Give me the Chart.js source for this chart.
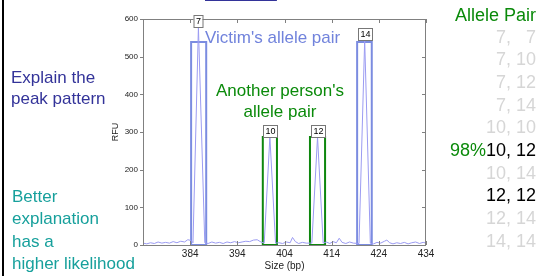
<!DOCTYPE html>
<html>
<head>
<meta charset="utf-8">
<script src="https://cdn.jsdelivr.net/npm/chart.js@4"></script>
<style>
    body { margin: 0; background: #fff; }
    #wrap { position: relative; width: 539px; height: 276px; overflow: hidden; font-family: "Liberation Sans", Arial, sans-serif; }
    #plot { position: absolute; left: 0; top: 0; }
    .txt { position: absolute; white-space: nowrap; }
    #edge { position: absolute; left: 2px; top: 0; width: 2px; height: 276px; background: #000; }
    #heading { position: absolute; top: -21px; left: 0; font-size: 20px; line-height: 20px; color: #333399; }
    #heading span { position: absolute; top: 0; white-space: nowrap; }
    #heading u { text-decoration-thickness: 3px; text-underline-offset: 2px; }
    #explain { left: 11px; top: 67px; font-size: 17px; line-height: 21px; color: #333399; }
    #better { left: 12px; top: 186px; font-size: 17px; line-height: 22.3px; color: #17a09c; }
    #victim { left: 205px; top: 28px; font-size: 17px; line-height: 20px; color: #7183dc; }
    #other { left: 200px; width: 160px; top: 80px; font-size: 17px; line-height: 21px; color: #0a8a0a; text-align: center; }
    #pairHead { right: 3px; top: 4px; font-size: 18px; line-height: 22.7px; color: #0a8a0a; }
    #pairs { right: 3px; top: 25.5px; font-size: 18px; line-height: 22.7px; color: #d6d6d6; text-align: right; }
    #pairs .hit { color: #000; }
    #pairs .pct { color: #0a8a0a; }
</style>
</head>
<body>
<div id="wrap">
    <canvas id="plot" width="539" height="276"></canvas>
    <div id="edge"></div>
    <div id="heading">
        <span style="left:25px">Quantify how well</span>
        <span style="left:205px"><u>different</u></span>
        <span style="left:290px">allele pairs</span>
        <span style="left:420px">genotype</span>
    </div>
    <div class="txt" id="explain">Explain the<br>peak pattern</div>
    <div class="txt" id="better">Better<br>explanation<br>has a<br>higher likelihood</div>
    <div class="txt" id="victim">Victim's allele pair</div>
    <div class="txt" id="other">Another person's<br>allele pair</div>
    <div class="txt" id="pairHead">Allele Pair</div>
    <div class="txt" id="pairs"></div>
</div>
<script>
// electropherogram trace (size in bp, height in RFU)
const traceSize = [374, 374.8, 375.6, 376.4, 377.2, 378, 378.8, 379.6, 380.4, 381.2,
    382, 382.8, 383.5, 384.2, 384.6, 385.75, 387.1, 387.8, 388.6, 389.4,
    390.2, 391, 391.8, 392.6, 393.4, 394.2, 395, 395.8, 396.6, 397.4,
    398.2, 399, 399.7, 400.9, 402.1, 402.8, 403.6, 404.4, 405.2, 405.7,
    406.3, 407, 407.8, 408.6, 409.8, 411.0, 412.2, 412.9, 413.6, 414.3,
    415, 415.6, 416.2, 417, 417.8, 418.6, 419.8, 421.0, 422.2, 422.9,
    423.6, 424.4, 425.2, 425.7, 426.3, 427, 427.8, 428.6, 429.4, 430.2,
    431, 431.8, 432.6, 433.4, 434];
const traceRFU = [5, 3, 6, 4, 8, 5, 7, 5, 9, 6,
    10, 8, 14, 12, 6, 579, 6, 4, 8, 5,
    7, 4, 8, 6, 9, 6, 8, 10, 9, 13,
    14, 8, 5, 287, 5, 6, 4, 8, 6, 20,
    9, 4, 7, 5, 5, 287, 5, 8, 4, 9,
    6, 18, 7, 4, 8, 5, 4, 544, 5, 3,
    7, 5, 10, 13, 6, 3, 6, 4, 7, 3,
    6, 8, 4, 7, 5];

// allele peak labels
const peakAllele = ['7', '10', '12', '14'];
const peakSize = [385.75, 400.9, 411.0, 421.0];
const peakRFU = [579, 287, 287, 544];

// highlight boxes around peaks
const boxStart = [384.2, 399.4, 409.4, 419.4];
const boxEnd = [387.4, 402.4, 412.6, 422.5];
const boxTop = [539, 287, 287, 539];
const boxOwner = ['victim', 'other', 'other', 'victim'];

// axis ticks
const xTickValues = [384, 394, 404, 414, 424, 434];
const yTickValues = [0, 100, 200, 300, 400, 500, 600];

// candidate allele pairs on the right
const pairList = ['7, \u20077', '7, 10', '7, 12', '7, 14', '10, 10', '10, 12', '10, 14', '12, 12', '12, 14', '14, 14'];
const pairHit = ['10, 12', '12, 12'];
const pairPct = { '10, 12': '98%' };

document.getElementById('pairs').innerHTML = pairList.map(p => {
    const pct = pairPct[p] ? `<span class="pct">${pairPct[p]}</span>` : '';
    const cls = pairHit.includes(p) ? 'hit' : '';
    return `<div>${pct}<span class="${cls}">${p}</span></div>`;
}).join('');

const ownerColor = { victim: '#7b8ce0', other: '#0e870e' };

const boxSets = boxStart.map((s, i) => ({
    data: [
        { x: s, y: 0 }, { x: s, y: boxTop[i] },
        { x: boxEnd[i], y: boxTop[i] }, { x: boxEnd[i], y: 0 }, { x: s, y: 0 }
    ],
    borderColor: ownerColor[boxOwner[i]],
    borderWidth: 2,
    pointRadius: 0,
    tension: 0,
    fill: false,
    clip: 3
}));

const frame = {
    id: 'frame',
    afterDatasetsDraw(chart) {
        const { ctx, chartArea: a, scales: { x, y } } = chart;
        ctx.save();
        ctx.strokeStyle = '#808080';
        ctx.lineWidth = 1;
        ctx.strokeRect(a.left + 0.5, a.top + 0.5, a.right - a.left - 1, a.bottom - a.top);
        ctx.beginPath();
        yTickValues.forEach(v => {
            const py = Math.round(y.getPixelForValue(v)) + 0.5;
            ctx.moveTo(a.left - 3, py); ctx.lineTo(a.left, py);
            ctx.moveTo(a.right - 4, py); ctx.lineTo(a.right, py);
        });
        xTickValues.forEach(v => {
            const px = Math.round(x.getPixelForValue(v)) + 0.5;
            ctx.moveTo(px, a.top); ctx.lineTo(px, a.top + 4);
            ctx.moveTo(px, a.bottom); ctx.lineTo(px, a.bottom - 4);
        });
        ctx.stroke();

        // boxed allele numbers on top of the peaks
        ctx.font = '9px "Liberation Sans", Arial';
        ctx.textAlign = 'center';
        ctx.textBaseline = 'middle';
        peakAllele.forEach((t, i) => {
            const px = Math.round(x.getPixelForValue(peakSize[i]));
            const py = Math.round(y.getPixelForValue(peakRFU[i]));
            const w = Math.round(ctx.measureText(t).width) + 4, h = 12;
            ctx.fillStyle = '#fff';
            ctx.fillRect(px - w / 2, py - h, w, h);
            ctx.strokeStyle = '#777';
            ctx.strokeRect(px - w / 2 + 0.5, py - h + 0.5, w, h);
            ctx.fillStyle = '#000';
            ctx.fillText(t, px + 0.5, py - h / 2 + 1);
        });
        ctx.restore();
    }
};

new Chart(document.getElementById('plot'), {
    type: 'line',
    data: {
        datasets: [{
            data: traceSize.map((s, i) => ({ x: s, y: traceRFU[i] })),
            borderColor: '#9b9bf2',
            borderWidth: 1,
            pointRadius: 0,
            tension: 0,
            fill: false
        }, ...boxSets]
    },
    options: {
        responsive: false,
        animation: false,
        layout: { padding: { left: 100, right: 113, top: 19, bottom: 4 } },
        plugins: { legend: { display: false }, tooltip: { enabled: false } },
        scales: {
            x: {
                type: 'linear',
                min: 374,
                max: 434,
                afterBuildTicks: s => { s.ticks = xTickValues.map(v => ({ value: v })); },
                afterFit: s => { s.height = 27; },
                grid: { display: false, drawTicks: false },
                border: { display: false },
                ticks: { font: { size: 10, family: 'Liberation Sans' }, color: '#222', padding: 3 },
                title: { display: true, text: 'Size (bp)', font: { size: 10, family: 'Liberation Sans' }, color: '#222', padding: 0 }
            },
            y: {
                min: 0,
                max: 600,
                afterBuildTicks: s => { s.ticks = yTickValues.map(v => ({ value: v })); },
                afterFit: s => { s.width = 43; },
                grid: { display: false, drawTicks: false },
                border: { display: false },
                ticks: { font: { size: 8, family: 'Liberation Sans' }, color: '#222', padding: 5 },
                title: { display: true, text: 'RFU', font: { size: 9, family: 'Liberation Sans' }, color: '#222', padding: { top: 10, bottom: 0 } }
            }
        }
    },
    plugins: [frame]
});
</script>
</body>
</html>
